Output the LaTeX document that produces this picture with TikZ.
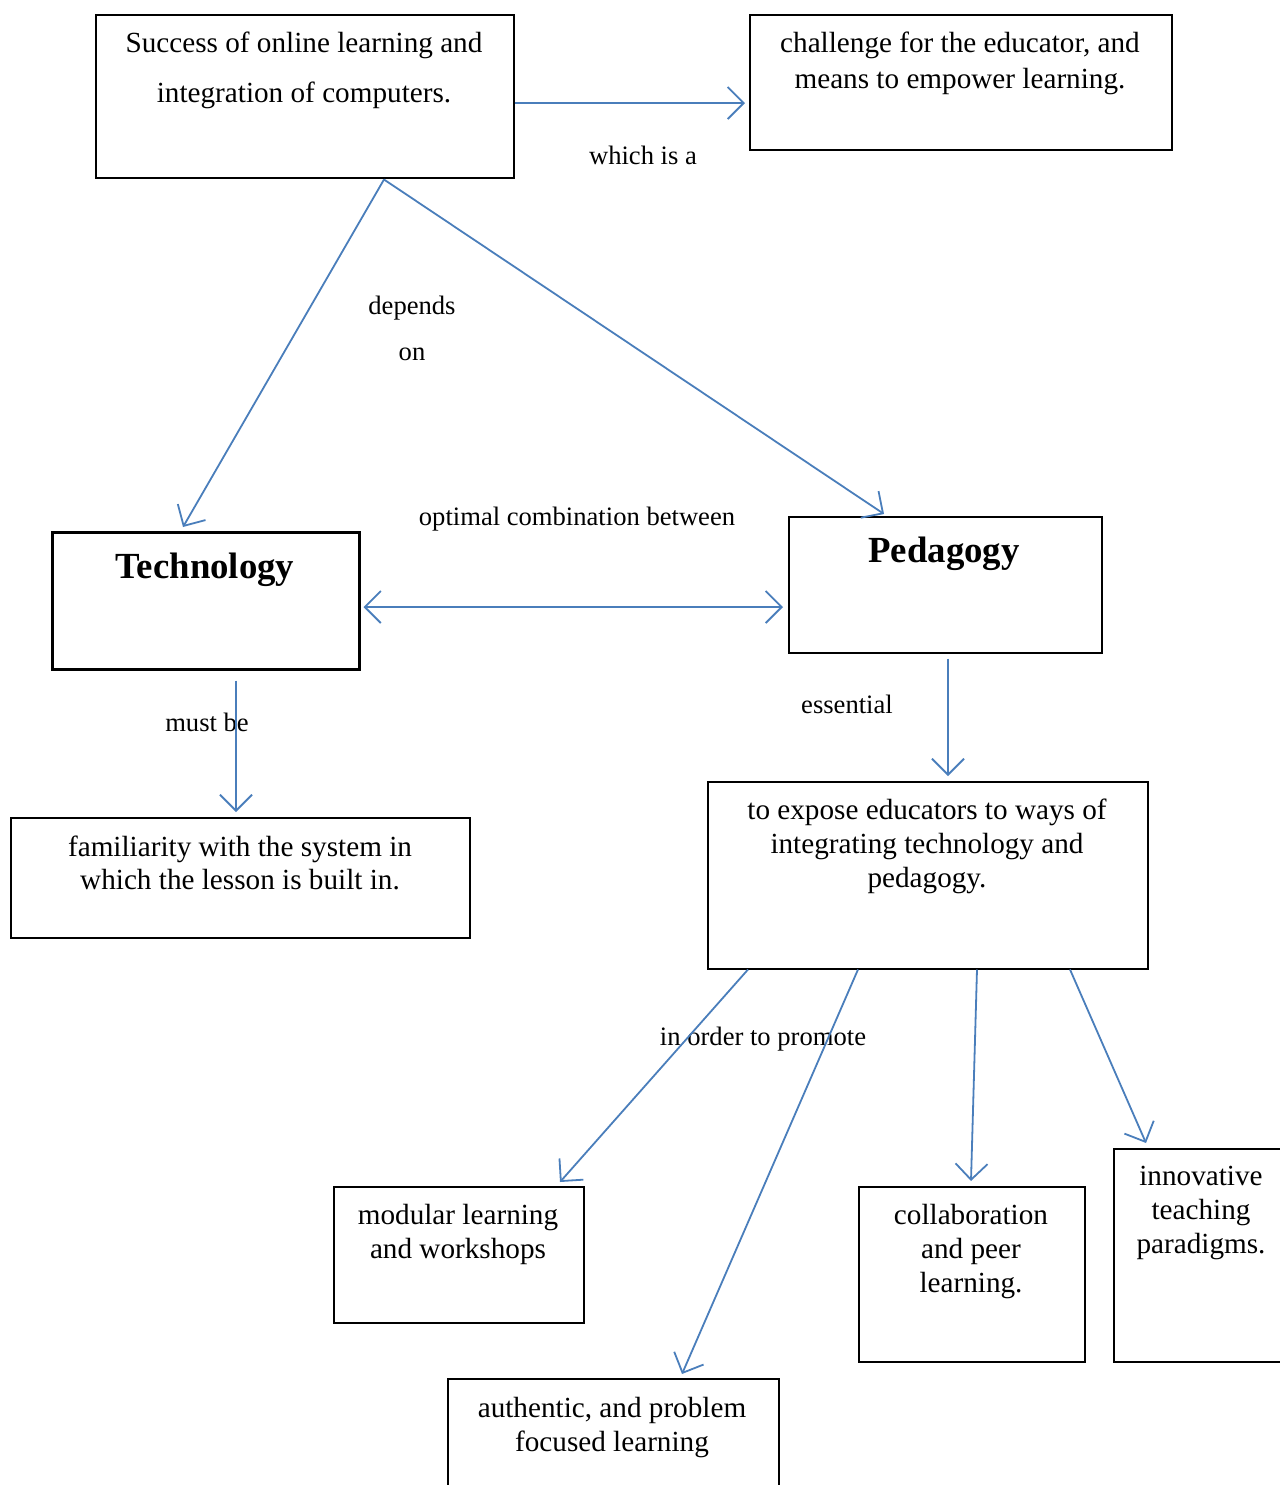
\documentclass[tikz,border=0pt]{standalone}
\usepackage{fontspec}
\setmainfont{Liberation Serif}
\usetikzlibrary{arrows.meta,calc}
\definecolor{arrblue}{HTML}{4A7EBB}
\begin{document}
\begin{tikzpicture}[x=0.5pt,y=-0.5pt,
  box/.style={draw=black, line width=0.75pt, inner sep=0, anchor=north west},
  thickbox/.style={box, line width=1.25pt},
  txt/.style={inner sep=0, anchor=north, align=center, font=\fontsize{14.6}{17}\selectfont},
  lbl/.style={inner sep=0, anchor=base, font=\fontsize{13.3}{23}\selectfont},
  bigtxt/.style={inner sep=0, anchor=base, font=\fontsize{18.4}{22}\selectfont\bfseries},
  conn/.style={draw=arrblue, line width=0.9pt, -{Straight Barb[length=8pt,width=16pt,line width=0.9pt]}},
  conn2/.style={draw=arrblue, line width=0.9pt, {Straight Barb[length=8pt,width=16pt,line width=0.9pt]}-{Straight Barb[length=8pt,width=16pt,line width=0.9pt]}}
]
\useasboundingbox (0,0) rectangle (1280,1485);
% boxes
\node[box, minimum width=209pt, minimum height=81.5pt] (A) at (95,14) {};
\node[box, minimum width=211pt, minimum height=67.5pt] (B) at (749,14) {};
\node[thickbox, minimum width=153.5pt, minimum height=68.5pt] (T) at (51,531) {};
\node[box, minimum width=156.5pt, minimum height=68pt] (P) at (788,516) {};
\node[box, minimum width=229.5pt, minimum height=60pt] (F) at (10,817) {};
\node[box, minimum width=220pt, minimum height=93.5pt] (E) at (707,781) {};
\node[box, minimum width=125pt, minimum height=68pt] (M) at (333,1186) {};
\node[box, minimum width=165.5pt, minimum height=65pt] (U) at (447,1378) {};
\node[box, minimum width=113pt, minimum height=87.5pt] (C) at (858,1186) {};
\node[box, minimum width=90pt, minimum height=106.5pt] (I) at (1113,1148) {};
% box texts
\node[txt, font=\fontsize{14.6}{25}\selectfont] (At) at (304,32) {Success of online learning and\\integration of computers.};
\node[txt, font=\fontsize{14.6}{18}\selectfont] (Bt) at (960,32) {challenge for the educator, and\\means to empower learning.};
\node[bigtxt] (Tt) at (205,578) {Technology};
\node[bigtxt] (Pt) at (944,562) {Pedagogy};
\node[txt, font=\fontsize{14.6}{16.5}\selectfont] (Ft) at (240,836) {familiarity with the system in\\which the lesson is built in.};
\node[txt] (Et) at (927,799) {to expose educators to ways of\\integrating technology and\\pedagogy.};
\node[txt] (Mt) at (458,1204) {modular learning\\and workshops};
\node[txt] (Ut) at (612,1397) {authentic, and problem\\focused learning};
\node[txt] (Ct) at (971,1204) {collaboration\\and peer\\learning.};
\node[txt] (It) at (1201,1166) {innovative\\teaching\\paradigms.};
% labels
\node[lbl] (L1) at (643,164) {which is a};
\node[lbl, anchor=north, align=center] (L2) at (412,296) {depends\\on};
\node[lbl] (L3) at (577,525) {optimal combination between};
\node[lbl] (L4) at (207,731) {must be};
\node[lbl] (L5) at (847,713) {essential};
\node[lbl] (L6) at (763,1045) {in order to promote};
% connectors
\draw[conn] ($(A.north east)+(0,89)$) -- ($(B.north west)+(-4,89)$);
\draw[conn] ($(A.south west)+(289,1)$) -- ($(T.north west)+(132,-4)$);
\draw[conn] ($(A.south west)+(289,1)$) -- ($(P.north west)+(96,-2)$);
\draw[conn2] ($(T.north east)+(3,76)$) -- ($(P.north west)+(-5,91)$);
\draw[conn] ($(T.south west)+(185,10)$) -- ($(F.north west)+(226,-5)$);
\draw[conn] ($(P.south west)+(160,5)$) -- ($(E.north west)+(241,-5)$);
\draw[conn] ($(E.south west)+(41,0)$) -- ($(M.north west)+(227,-4)$);
\draw[conn] ($(E.south west)+(151,0)$) -- ($(U.north west)+(235,-4)$);
\draw[conn] ($(E.south west)+(270,0)$) -- ($(C.north west)+(113,-5)$);
\draw[conn] ($(E.south west)+(363,0)$) -- ($(I.north west)+(33,-5)$);
\end{tikzpicture}
\end{document}
